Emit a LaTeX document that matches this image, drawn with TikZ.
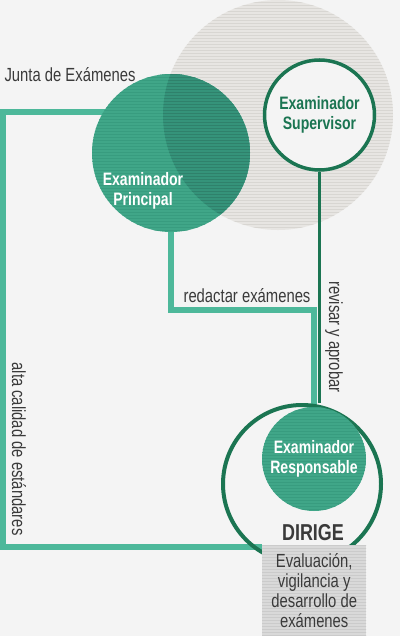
\documentclass[tikz,border=0pt]{standalone}
\usepackage{fontspec}
\setmainfont{Liberation Sans}[FakeStretch=0.78]
\usetikzlibrary{patterns}

\definecolor{fondo}{HTML}{F4F4F4}
\definecolor{texto}{HTML}{3A3A3A}
\definecolor{verdelinea}{HTML}{4DB89A}
\definecolor{verdecirc}{HTML}{40A688}
\definecolor{verderaya}{HTML}{389C7F}
\definecolor{verdecruce}{HTML}{35937A}
\definecolor{verdeosc}{HTML}{1B7552}
\definecolor{grisc}{HTML}{E7E5E2}
\definecolor{grisraya}{HTML}{D8D6D2}
\definecolor{cajagris}{HTML}{D9D9D9}
\definecolor{cajaraya}{HTML}{CBCBCB}

\pgfdeclarelayer{atras}
\pgfdeclarelayer{lineas}
\pgfsetlayers{atras,lineas,main}

\begin{document}
\begin{tikzpicture}[x=1pt,y=-1pt,
  disco/.style={circle,inner sep=0pt,minimum size=#1},
  lineaclara/.style={line width=5.5pt,verdelinea},
  lineaosc/.style={line width=3pt,verdeosc},
  etiq/.style={text=texto,font=\fontsize{19}{20}\selectfont},
  titulo/.style={text=white,align=center,font=\fontsize{18}{20}\selectfont\bfseries}]
\useasboundingbox (0,0) rectangle (400,636);

% circulos
\begin{pgfonlayer}{atras}
\fill[fondo] (0,0) rectangle (400,636);
\node[disco=230pt,fill=grisc,postaction={pattern=horizontal lines,pattern color=grisraya}] (junta) at (278,115) {};
\end{pgfonlayer}
\node[disco=158pt,fill=verdecirc,postaction={pattern=horizontal lines,pattern color=verderaya}] (principal) at (171,153) {};
\begin{scope}
\clip (junta.center) circle (115pt);
\fill[verdecruce,postaction={pattern=horizontal lines,pattern color=verdecruce!88!black}] (principal.center) circle (79pt);
\end{scope}
\node[disco=110pt,draw=verdeosc,line width=3.5pt,fill=fondo,titulo,text=verdeosc] (supervisor) at (319.5,115) {Examinador\\Supervisor};
\node[titulo] (principaltxt) at (143,191) {Examinador\\Principal};

\node[disco=158pt,draw=verdeosc,line width=4pt] (anillo) at (302,484) {};
\node[disco=104pt,fill=verdecirc,postaction={pattern=horizontal lines,pattern color=verderaya},titulo] (responsable) at (314,459) {Examinador\\Responsable};
\node[text=texto,font=\fontsize{23}{24}\selectfont\bfseries] (dirige) at (313,533) {DIRIGE};
\node[anchor=north west,minimum width=104pt,minimum height=91pt,inner sep=0pt,
  fill=cajagris,postaction={pattern=horizontal lines,pattern color=cajaraya},
  etiq,align=center,font=\fontsize{19}{20}\selectfont] (evalbox) at (262,545)
  {Evaluación,\\vigilancia y\\desarrollo de\\exámenes};

% conexiones
\coordinate (esqarriba) at (3,112);
\coordinate (esqabajo) at (3,547);
\coordinate (codo) at (314,310);
\begin{pgfonlayer}{lineas}
\draw[lineaclara] (principal.center |- esqarriba) -- (esqarriba) -- (esqabajo) -- (esqabajo -| evalbox.west);
\draw[lineaclara] (principal.south) |- (codo) -- (responsable.north);
\draw[lineaosc] (supervisor.south) -- (supervisor.south |- anillo.north);
\end{pgfonlayer}

% textos
\node[etiq,anchor=west] (juntatxt) at (1,75) {Junta de Exámenes};
\node[etiq] (redactar) at (247,296) {redactar exámenes};
\node[etiq,rotate=-90] (revisar) at (334,337) {revisar y aprobar};
\node[etiq,rotate=-90] (alta) at (19,449) {alta calidad de estándares};
\end{tikzpicture}
\end{document}
